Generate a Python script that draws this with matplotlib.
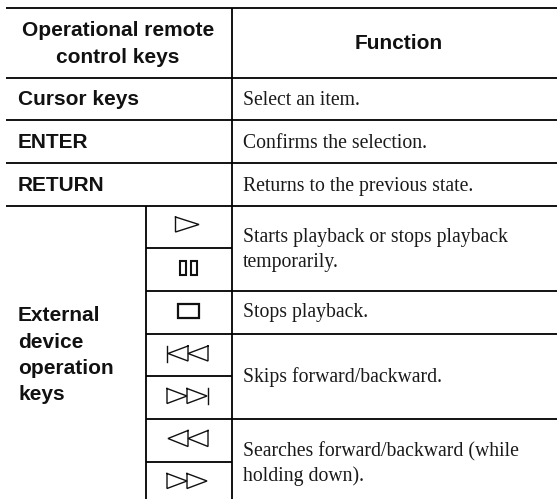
import matplotlib
matplotlib.use('Agg')
import matplotlib.pyplot as plt

# table text
header_keys = ['Operational remote', 'control keys']
header_function = 'Function'
simple_keys = ['Cursor keys', 'ENTER', 'RETURN']
simple_functions = ['Select an item.', 'Confirms the selection.', 'Returns to the previous state.']
external_label = ['External', 'device', 'operation', 'keys']
function_lines = ['Starts playback or stops playback', 'temporarily.', 'Stops playback.',
                  'Skips forward/backward.', 'Searches forward/backward (while', 'holding down).']

# layout in pixels
rows = [8, 78, 120, 163, 206, 248, 291, 334, 376, 419, 462]
x_left, x_mid, x_col, x_right = 6, 146, 231.5, 557
simple_base = [105, 148, 191]
external_base = [321, 347.5, 374.5, 400.5]
function_base = [241.7, 266.7, 317, 381.7, 456, 480.7]

SANS = 'Liberation Sans'
SERIF = 'Liberation Serif'
SANS_SIZE = 15
SERIF_SIZE = 14.2
INK = '#111111'

fig = plt.figure(figsize=(5.57, 4.99), dpi=100)
ax = fig.add_axes([0, 0, 1, 1])
ax.set_xlim(0, 557)
ax.set_ylim(499, 0)
ax.axis('off')

lw = 1.3


def hline(y, x0, x1):
    ax.plot([x0, x1], [y, y], color='black', lw=lw, solid_capstyle='butt')


def vline(x, y0, y1):
    ax.plot([x, x], [y0, y1], color='black', lw=lw, solid_capstyle='butt')


def label(x, y, s, **kw):
    ax.text(x, y, s, family=SANS, weight='bold', fontsize=SANS_SIZE, va='baseline', color=INK, **kw)


def body(x, y, s):
    ax.text(x, y, s, family=SERIF, fontsize=SERIF_SIZE, va='baseline', color='#1a1a1a')


for y in rows[:5]:
    hline(y, x_left, x_right)
hline(rows[5], x_mid, x_col)
hline(rows[6], x_col, x_right)
hline(rows[6], x_mid, x_col)
hline(rows[7], x_mid, x_right)
hline(rows[8], x_mid, x_col)
hline(rows[9], x_mid, x_right)
hline(rows[10], x_mid, x_col)
vline(x_col, rows[0], 499)
vline(x_mid, rows[4], 499)

# header
label(118, 36, header_keys[0], ha='center')
label(118, 62.5, header_keys[1], ha='center')
label(398.5, 49, header_function, ha='center')

# plain rows
for i in range(3):
    label(18, simple_base[i], simple_keys[i])
    body(243, simple_base[i], simple_functions[i])

# external device rows
for y, word in zip(external_base, external_label):
    label(18, y, word)
for y, line in zip(function_base, function_lines):
    body(243, y, line)


# key icons
def tri(x0, x1, cy, h, right=True):
    tip, back = (x1, x0) if right else (x0, x1)
    ax.plot([back, tip, back, back], [cy - h, cy, cy + h, cy - h], color=INK, lw=1.0, solid_joinstyle='miter')


tri(175.5, 199, 224.5, 7.5)

for x0 in (179.5, 191):
    ax.add_patch(plt.Rectangle((x0, 260.5), 6, 14.5, fill=False, ec=INK, lw=1.5))
ax.add_patch(plt.Rectangle((177.5, 303.5), 21, 14.5, fill=False, ec=INK, lw=1.6))

tri(168, 188, 353.5, 7.5, right=False)
tri(188, 208, 353.5, 7.5, right=False)
ax.plot([167, 167], [345.5, 361.5], color=INK, lw=1.0)

tri(167, 187, 396, 7.5)
tri(187, 207, 396, 7.5)
ax.plot([207.5, 207.5], [388, 404], color=INK, lw=1.0)

tri(168, 188, 438.5, 8, right=False)
tri(188, 208, 438.5, 8, right=False)

tri(167, 187, 481, 7.5)
tri(187, 207, 481, 7.5)

fig.savefig('out.png', dpi=100)
